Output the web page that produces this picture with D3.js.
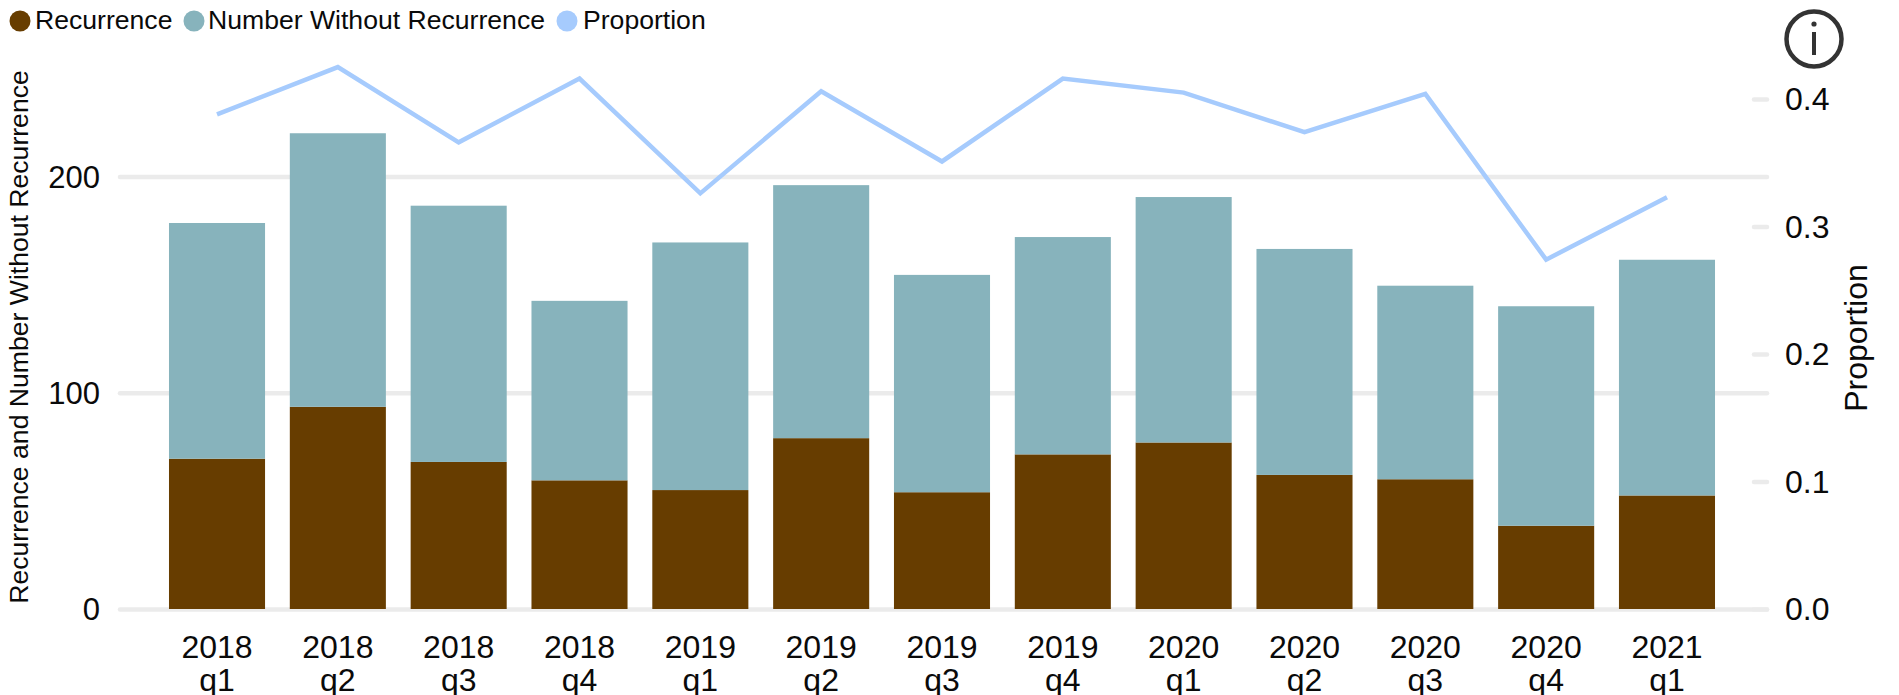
<!DOCTYPE html>
<html>
<head>
<meta charset="utf-8">
<script src="https://cdn.jsdelivr.net/npm/d3@7"></script>
<style>
  html, body { margin: 0; padding: 0; background: #fff; overflow: hidden; }
  text { font-family: "Liberation Sans", Arial, sans-serif; fill: #0a0a0a; }
</style>
</head>
<body>
<div id="chart"></div>
<script>
const quarters = ["2018 q1", "2018 q2", "2018 q3", "2018 q4", "2019 q1", "2019 q2", "2019 q3", "2019 q4", "2020 q1", "2020 q2", "2020 q3", "2020 q4", "2021 q1"];
const recurrence = [69.5, 93.5, 68, 59.5, 55, 79, 54, 71.5, 77, 62, 60, 38.5, 52.5];
const withoutRecurrence = [109, 126.5, 118.5, 83, 114.5, 117, 100.5, 100.5, 113.5, 104.5, 89.5, 101.5, 109];
const proportion = [0.388, 0.425, 0.366, 0.416, 0.326, 0.406, 0.351, 0.416, 0.405, 0.374, 0.404, 0.274, 0.323];
const leftTicks = [0, 100, 200];
const rightTicks = [0, 0.1, 0.2, 0.3, 0.4];
const legendItems = ["Recurrence", "Number Without Recurrence", "Proportion"];
const colors = ["#673d00", "#87b3bc", "#a6cbfd"];

const width = 1899, height = 695;
const baseY = 609, plotLeft = 120, plotRight = 1767;

const svg = d3.select("#chart").append("svg")
    .attr("width", width)
    .attr("height", height);

const x = d3.scaleBand()
    .domain(quarters)
    .range([156.6, 1727.4])
    .paddingInner(0.205)
    .paddingOuter(0.1025);
const yLeft = d3.scaleLinear().domain([0, 200]).range([baseY, 176.5]);
const yRight = d3.scaleLinear().domain([0, 0.4]).range([baseY, 99]);

// axes, the long left ticks double as the grid
const leftAxis = svg.append("g")
    .attr("transform", "translate(" + plotLeft + ",0)")
    .call(d3.axisLeft(yLeft).tickValues(leftTicks).tickSize(-(plotRight - plotLeft)).tickPadding(20));
const rightAxis = svg.append("g")
    .attr("transform", "translate(" + plotRight + ",0)")
    .call(d3.axisRight(yRight).tickValues(rightTicks).tickSize(-13).tickPadding(18).tickFormat(d3.format(".1f")));
const bottomAxis = svg.append("g")
    .attr("transform", "translate(0," + baseY + ")")
    .call(d3.axisBottom(x).tickSize(0).tickPadding(0));

[leftAxis, rightAxis, bottomAxis].forEach(function (a) {
    a.select(".domain").remove();
    a.selectAll("line")
        .attr("stroke", "#ebebeb")
        .attr("stroke-width", 4.5)
        .attr("stroke-linecap", "round");
    a.selectAll("text").attr("font-size", 32).style("font-family", null);
});
leftAxis.selectAll("text").attr("font-size", 31).attr("dy", "0.34em");
rightAxis.selectAll("text").attr("x", 18).attr("dy", "0.34em");

// year on the first line, quarter under it
bottomAxis.selectAll("text")
    .attr("y", 0)
    .attr("dy", null)
    .each(function (d) {
        const parts = d.split(" ");
        const t = d3.select(this).text(null);
        t.append("tspan").attr("x", 0).attr("y", 49).text(parts[0]);
        t.append("tspan").attr("x", 0).attr("y", 82).text(parts[1]);
    });

const stacked = d3.stack().keys([0, 1]).value(function (d, k) { return d[k]; })(
    recurrence.map(function (v, i) { return [v, withoutRecurrence[i]]; })
);

svg.append("g").selectAll("g")
    .data(stacked)
    .enter().append("g")
    .attr("fill", function (d, i) { return colors[i]; })
    .selectAll("rect")
    .data(function (d) { return d; })
    .enter().append("rect")
    .attr("x", function (d, i) { return x(quarters[i]); })
    .attr("y", function (d) { return yLeft(d[1]); })
    .attr("width", x.bandwidth())
    .attr("height", function (d) { return yLeft(d[0]) - yLeft(d[1]); });

const line = d3.line()
    .x(function (d, i) { return x(quarters[i]) + x.bandwidth() / 2; })
    .y(function (d) { return yRight(d); });

svg.append("path")
    .datum(proportion)
    .attr("fill", "none")
    .attr("stroke", colors[2])
    .attr("stroke-width", 4.5)
    .attr("d", line);

// legend
const legendCircleX = [20, 194, 567];
const legendTextX = [35, 208, 583];
const legend = svg.append("g").selectAll("g")
    .data(legendItems)
    .enter().append("g");
legend.append("circle")
    .attr("cx", function (d, i) { return legendCircleX[i]; })
    .attr("cy", 21)
    .attr("r", 10.5)
    .attr("fill", function (d, i) { return colors[i]; });
legend.append("text")
    .attr("x", function (d, i) { return legendTextX[i]; })
    .attr("y", 29)
    .attr("font-size", 26.6)
    .text(function (d) { return d; });

// axis titles
svg.append("text")
    .attr("transform", "translate(28,337)rotate(-90)")
    .attr("text-anchor", "middle")
    .attr("font-size", 26.6)
    .text("Recurrence and Number Without Recurrence");
svg.append("text")
    .attr("transform", "translate(1867,338)rotate(-90)")
    .attr("text-anchor", "middle")
    .attr("font-size", 32)
    .text("Proportion");

// info icon
const info = svg.append("g").attr("transform", "translate(1814,39)");
info.append("circle")
    .attr("r", 27.5)
    .attr("fill", "none")
    .attr("stroke", "#333")
    .attr("stroke-width", 4.5);
info.append("circle")
    .attr("cy", -15)
    .attr("r", 2.6)
    .attr("fill", "#333");
info.append("line")
    .attr("y1", -7)
    .attr("y2", 16)
    .attr("stroke", "#333")
    .attr("stroke-width", 4);
</script>
</body>
</html>
